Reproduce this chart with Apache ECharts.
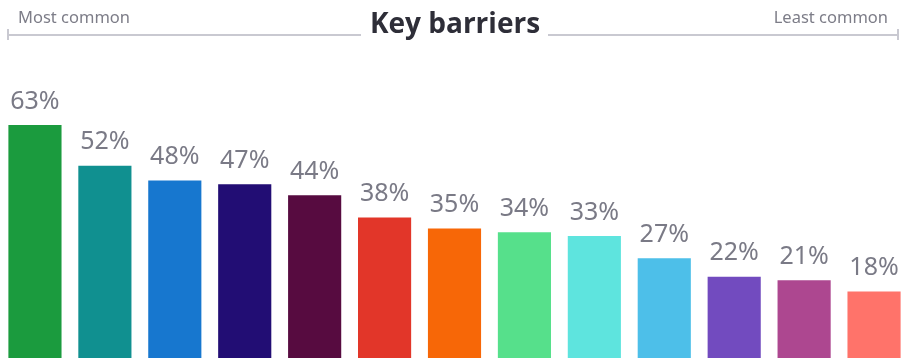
<!DOCTYPE html>
<html><head><meta charset="utf-8">
<script src="https://cdn.jsdelivr.net/npm/echarts@6/dist/echarts.min.js"></script>
<style>html,body{margin:0;padding:0;background:#fff}#c{width:910px;height:358px}</style>
</head><body><div id="c"></div>
<script>
const categories = ['B1','B2','B3','B4','B5','B6','B7','B8','B9','B10','B11','B12','B13'];
const values = [63,52,48,47,44,38,35,34,33,27,22,21,18];
const colors = ['#1b9b3e','#109090','#1777cf','#220d74','#570b40','#e23629','#f76707','#56e08b','#5ee4de','#4dbfe9','#724bbf','#ad4790','#ff736a'];
const titleText = 'Key barriers';
const leftText = 'Most common';
const rightText = 'Least common';

const chart = echarts.init(document.getElementById('c'));
const lineColor = '#c9c9d1';
chart.setOption({
  animation: false,
  grid: {left: 0, right: 1, top: 30, bottom: -2},
  xAxis: {type: 'category', data: categories, show: false},
  yAxis: {type: 'value', min: 0, max: 88.7, show: false},
  series: [{
    type: 'bar',
    barCategoryGap: '24%',
    data: values.map((v, i) => ({value: v, itemStyle: {color: colors[i]}})),
    label: {
      show: true, position: 'top', distance: 11,
      formatter: '{c}%',
      color: '#7a7a86', fontSize: 25, fontFamily: 'Noto Sans'
    }
  }],
  graphic: [
    {type: 'line', shape: {x1: 8, y1: 35, x2: 361, y2: 35}, style: {stroke: lineColor, lineWidth: 2}},
    {type: 'line', shape: {x1: 548, y1: 35, x2: 899, y2: 35}, style: {stroke: lineColor, lineWidth: 2}},
    {type: 'line', shape: {x1: 8, y1: 29, x2: 8, y2: 40}, style: {stroke: lineColor, lineWidth: 2}},
    {type: 'line', shape: {x1: 898, y1: 29, x2: 898, y2: 40}, style: {stroke: lineColor, lineWidth: 2}},
    {type: 'text', left: 'center', top: 11, style: {text: titleText, font: 'bold 28px "Open Sans"', fill: '#2e2e38'}},
    {type: 'text', left: 18, top: 10, style: {text: leftText, font: '16.5px "Noto Sans"', fill: '#7d7d88'}},
    {type: 'text', right: 22, top: 10, style: {text: rightText, font: '16.5px "Noto Sans"', fill: '#7d7d88'}}
  ]
});
</script></body></html>
